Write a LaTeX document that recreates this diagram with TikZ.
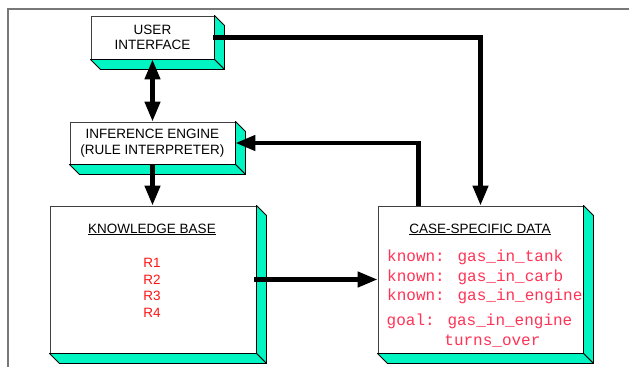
\documentclass[tikz,border=0pt]{standalone}
\usepackage{fontspec}
\setmainfont{Liberation Sans}
\newfontfamily\monofont{Liberation Mono}
\usetikzlibrary{arrows.meta,calc,backgrounds}
\definecolor{sidecol}{RGB}{0,245,195}
\definecolor{pinkred}{RGB}{255,51,85}
\definecolor{rulered}{RGB}{255,20,20}
\definecolor{framegray}{RGB}{120,120,120}
\tikzset{
  front/.style={draw=black!75, fill=white, line width=0.9pt, inner sep=0pt, align=center,
    font=\fontsize{13.5}{15.5}\selectfont},
  sideface/.style={draw=black, fill=sidecol, line width=0.9pt, line join=round},
  conn/.style={line width=4.5pt, -{Triangle[length=20pt,width=15pt]}},
  dconn/.style={line width=4.5pt, {Triangle[length=20pt,width=15pt]}-{Triangle[length=20pt,width=15pt]}},
  lbl/.style={font=\fontsize{13.5}{16.8}\selectfont, inner sep=0pt},
  mono/.style={font=\monofont\fontsize{16}{19.5}\selectfont, text=pinkred, inner sep=0pt, anchor=base west},
}
\newcommand{\sides}[1]{%
  \draw[sideface] (#1.north east) -- ++(10,10) -- ($(#1.south east)+(10,10)$) -- (#1.south east) -- cycle;
  \draw[sideface] (#1.south west) -- (#1.south east) -- ++(10,10) -- ($(#1.south west)+(10,10)$) -- cycle;
}
\begin{document}
\begin{tikzpicture}[x=1pt,y=-1pt]
\useasboundingbox (0,0) rectangle (629,367);
\fill[white] (0,0) rectangle (629,367);
% frame
\draw[framegray, line width=1.5pt] (8,367) -- (8,9) -- (629,9);
% boxes
\node[front, minimum width=123pt, minimum height=43pt] (ui) at (152.5,37.5) {USER\\INTERFACE};
\node[front, minimum width=165pt, minimum height=42pt] (ie) at (152.5,143) {INFERENCE ENGINE\\(RULE INTERPRETER)};
\node[front, minimum width=206pt, minimum height=147pt] (kb) at (153,279.5) {};
\node[front, minimum width=205pt, minimum height=147pt] (cd) at (480.5,279.5) {};
\sides{ui}
\sides{ie}
\sides{kb}
\sides{cd}
% texts
\node[lbl, anchor=base] (kbt) at (152,233) {\underline{KNOWLEDGE BASE}};
\node[lbl, anchor=base, text=rulered, align=center] (rules) at (152,317.7) {R1\\R2\\R3\\R4};
\node[lbl, anchor=base] (cdt) at (480,233) {\underline{CASE-SPECIFIC DATA}};
\node[mono] (k1) at (387,261.5) {known: gas\_in\_tank};
\node[mono] (k2) at (387,281) {known: gas\_in\_carb};
\node[mono] (k3) at (387,300.5) {known: gas\_in\_engine};
\node[mono] (g1) at (386.5,325.7) {goal: gas\_in\_engine};
\node[mono] (g2) at (444.2,345.2) {turns\_over};
% connectors
\draw[dconn] (ui.south) -- (ie.north);
\draw[conn] ($(ui.east)+(-1,0)$) -| (cd.north);
\coordinate (cdup) at ($(cd.north west)+(41,0)$);
\draw[conn] (cdup) |- (ie.east);
\draw[conn] (ie.south) -- (ie.south |- kb.north);
\draw[conn] ($(kb.east)+(-2,0)$) -- (cd.west);
\end{tikzpicture}
\end{document}
